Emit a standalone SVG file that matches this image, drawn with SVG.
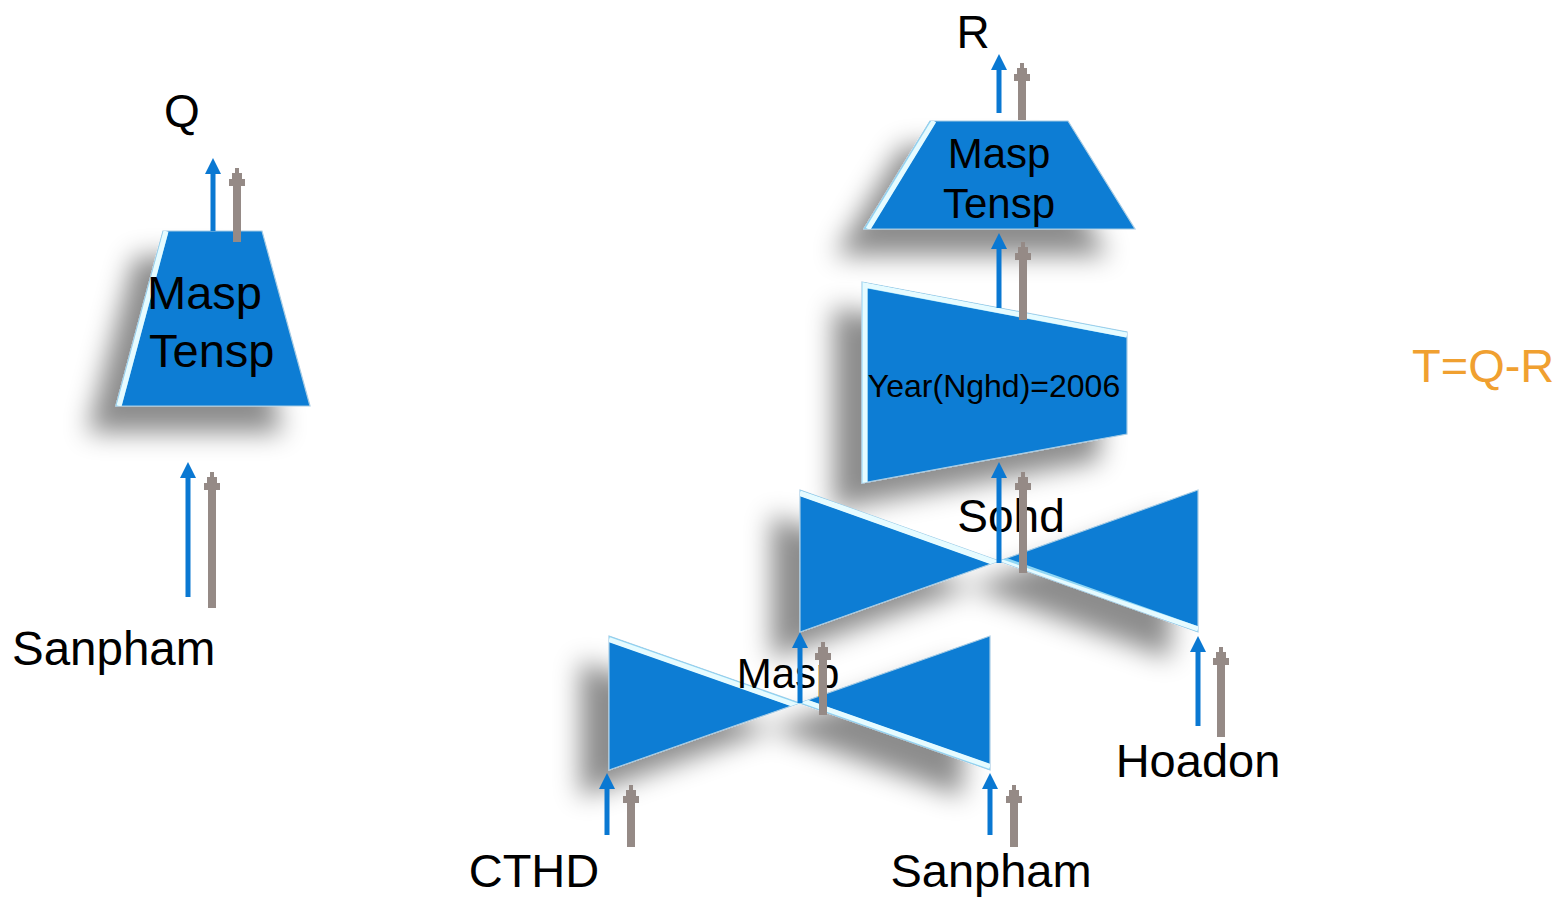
<svg xmlns="http://www.w3.org/2000/svg" width="1560" height="898" viewBox="0 0 1560 898">
<style>
.shape{fill:#0A7DD4;stroke:#a8cce4;stroke-width:1.2}
.hl{fill:none;stroke:#8fd6f4;stroke-width:11}
.hl2{fill:none;stroke:#e6fbff;stroke-width:5}
.lbl{font-family:"Liberation Sans",Arial,sans-serif;fill:#000}
.ba{fill:#0A78D2}
.ga{fill:#958A86}
</style>
<defs>
<filter id="sh" x="-50%" y="-50%" width="200%" height="200%">
<feGaussianBlur in="SourceAlpha" stdDeviation="13"/>
<feOffset dx="-28" dy="26" result="b"/>
<feFlood flood-color="#000" flood-opacity="0.45"/>
<feComposite in2="b" operator="in" result="s"/>
<feMerge><feMergeNode in="s"/><feMergeNode in="SourceGraphic"/></feMerge>
</filter>
<clipPath id="c1"><polygon points="163,231 262,231 310,406 116,406"/></clipPath>
<clipPath id="c2"><polygon points="930,121 1068,121 1135,229 864,229"/></clipPath>
<clipPath id="c3"><polygon points="862,282 1127,332 1127,434 862,483"/></clipPath>
<clipPath id="c4"><polygon points="800,490 1198,632 1198,490 800,632"/></clipPath>
<clipPath id="c5"><polygon points="609,636 990,770 990,636 609,770"/></clipPath>
</defs>
<g id="node-left">
<polygon class="shape" filter="url(#sh)" points="163,231 262,231 310,406 116,406"/>
<g clip-path="url(#c1)"><polyline class="hl" points="116,406 163,231"/><polyline class="hl2" points="119,406 166,231"/></g>
<text class="lbl" x="147" y="309" font-size="47">Masp</text>
<text class="lbl" x="149" y="367" font-size="47">Tensp</text>
</g>
<g id="node-top">
<polygon class="shape" filter="url(#sh)" points="930,121 1068,121 1135,229 864,229"/>
<g clip-path="url(#c2)"><polyline class="hl" points="864,229 930,121"/><polyline class="hl2" points="868,229 934,121"/></g>
<text class="lbl" x="999" y="168" font-size="42" text-anchor="middle">Masp</text>
<text class="lbl" x="999" y="218" font-size="42" text-anchor="middle">Tensp</text>
</g>
<g id="node-year">
<polygon class="shape" filter="url(#sh)" points="862,282 1127,332 1127,434 862,483"/>
<g clip-path="url(#c3)"><polyline class="hl" points="862,483 862,282 1127,332"/><polyline class="hl2" points="865,483 865,285 1127,335"/></g>
<text class="lbl" x="994" y="397" font-size="32" text-anchor="middle">Year(Nghd)=2006</text>
</g>
<g id="node-sohd">
<polygon class="shape" filter="url(#sh)" points="800,490 1198,632 1198,490 800,632"/>
<g clip-path="url(#c4)"><line class="hl" x1="800" y1="490" x2="1198" y2="632"/><line class="hl2" x1="800" y1="493" x2="1198" y2="629"/><line class="hl2" x1="800" y1="493.5" x2="1198" y2="635.5"/></g>
<text class="lbl" x="1011" y="532" font-size="46" text-anchor="middle">Sohd</text>
</g>
<g id="node-masp">
<polygon class="shape" filter="url(#sh)" points="609,636 990,770 990,636 609,770"/>
<g clip-path="url(#c5)"><line class="hl" x1="609" y1="636" x2="990" y2="770"/><line class="hl2" x1="609" y1="639.5" x2="990" y2="773.5"/><line class="hl2" x1="609" y1="632.5" x2="990" y2="766.5"/></g>
<text class="lbl" x="788" y="688" font-size="42" text-anchor="middle">Masp</text>
</g>
<g id="labels">
<text class="lbl" x="182" y="127" font-size="46" text-anchor="middle">Q</text>
<text class="lbl" x="973" y="48" font-size="46" text-anchor="middle">R</text>
<text class="lbl" x="12" y="665" font-size="47.5">Sanpham</text>
<text class="lbl" x="534" y="887" font-size="47" text-anchor="middle">CTHD</text>
<text class="lbl" x="991" y="887" font-size="47" text-anchor="middle">Sanpham</text>
<text class="lbl" x="1198" y="777" font-size="47" text-anchor="middle">Hoadon</text>
<text x="1412" y="382" font-size="47" font-family="Liberation Sans,Arial,sans-serif" fill="#F0A030">T=Q-R</text>
</g>
<g id="connectors">
<path class="ba" d="M210.5,231V174H205L213,158L221,174H215.5V231Z"/>
<path class="ba" d="M185.5,597V478H180L188,462L196,478H190.5V597Z"/>
<path class="ba" d="M996.5,113V70H991L999,54L1007,70H1001.5V113Z"/>
<path class="ba" d="M996.5,308V249H991L999,233L1007,249H1001.5V308Z"/>
<path class="ba" d="M996.5,563V478H991L999,462L1007,478H1001.5V563Z"/>
<path class="ba" d="M797.5,703V648H792L800,632L808,648H802.5V703Z"/>
<path class="ba" d="M604.5,835V789H599L607,773L615,789H609.5V835Z"/>
<path class="ba" d="M987.5,835V789H982L990,773L998,789H992.5V835Z"/>
<path class="ba" d="M1195.5,726V652H1190L1198,636L1206,652H1200.5V726Z"/>
<path class="ga" d="M233,242V186H229V179H232V173H235V168H239V173H242V179H245V186H241V242Z"/>
<path class="ga" d="M208,608V490H204V483H207V477H210V472H214V477H217V483H220V490H216V608Z"/>
<path class="ga" d="M1018,120V81H1014V74H1017V68H1020V63H1024V68H1027V74H1030V81H1026V120Z"/>
<path class="ga" d="M1019,320V260H1015V253H1018V247H1021V242H1025V247H1028V253H1031V260H1027V320Z"/>
<path class="ga" d="M1019,573V490H1015V483H1018V477H1021V472H1025V477H1028V483H1031V490H1027V573Z"/>
<path class="ga" d="M819,715V660H815V653H818V647H821V642H825V647H828V653H831V660H827V715Z"/>
<path class="ga" d="M627,847V803H623V796H626V790H629V785H633V790H636V796H639V803H635V847Z"/>
<path class="ga" d="M1010,847V803H1006V796H1009V790H1012V785H1016V790H1019V796H1022V803H1018V847Z"/>
<path class="ga" d="M1217,737V665H1213V658H1216V652H1219V647H1223V652H1226V658H1229V665H1225V737Z"/>
</g>
</svg>
